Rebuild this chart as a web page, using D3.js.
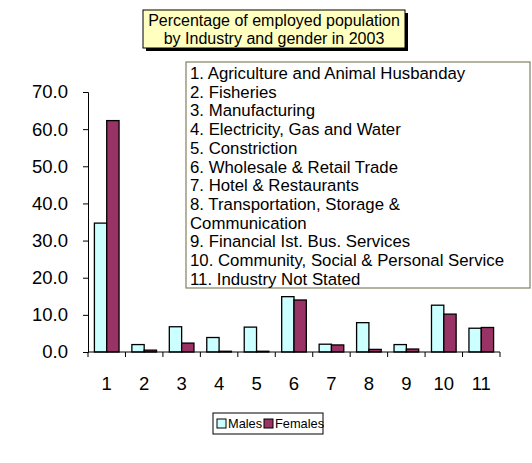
<!DOCTYPE html>
<html>
<head>
<meta charset="utf-8">
<script src="https://cdn.jsdelivr.net/npm/d3@7"></script>
<style>
  html, body { margin: 0; padding: 0; background: #fff; }
  svg { display: block; font-family: Arial, "Liberation Sans", sans-serif; }
</style>
</head>
<body>
<svg id="chart" width="532" height="463"></svg>
<script>
// Employed population by industry and gender, 2003 (percent)
const categories = ["1", "2", "3", "4", "5", "6", "7", "8", "9", "10", "11"];
const males   = [34.7, 2.0, 6.8, 3.9, 6.7, 14.9, 2.1, 7.9, 2.0, 12.6, 6.4];
const females = [62.3, 0.5, 2.4, 0.2, 0.2, 14.0, 1.9, 0.7, 0.8, 10.2, 6.6];
const seriesNames = ["Males", "Females"];
const yTicks = [0, 10, 20, 30, 40, 50, 60, 70];
const industryNotes = [
  "1. Agriculture and Animal Husbanday",
  "2. Fisheries",
  "3. Manufacturing",
  "4. Electricity, Gas and Water",
  "5. Constriction",
  "6. Wholesale & Retail Trade",
  "7. Hotel & Restaurants",
  "8. Transportation, Storage &",
  "Communication",
  "9. Financial Ist. Bus. Services",
  "10. Community, Social & Personal Service",
  "11. Industry Not Stated"
];
const titleLines = ["Percentage of employed population", "by Industry and gender  in 2003"];

const colors = ["#CCFFFF", "#993366"];
const svg = d3.select("#chart");

const plot = { left: 88, right: 500, top: 92, bottom: 352 };

const x = d3.scaleBand().domain(categories).range([plot.left, plot.right]).paddingInner(0).paddingOuter(0);
const inner = d3.scaleBand().domain(seriesNames).range([0, x.bandwidth()]).paddingInner(0).paddingOuter(0.52);
const y = d3.scaleLinear().domain([0, 70]).range([plot.bottom, plot.top]);

// bars
const rows = categories.map((c, i) => ({ cat: c, vals: [males[i], females[i]] }));
const groups = svg.append("g").selectAll("g").data(rows).join("g")
  .attr("transform", d => `translate(${x(d.cat)},0)`);
groups.selectAll("rect").data(d => d.vals.map((v, j) => ({ v, s: seriesNames[j], j })))
  .join("rect")
  .attr("x", d => inner(d.s))
  .attr("width", inner.bandwidth())
  .attr("y", d => y(d.v))
  .attr("height", d => y(0) - y(d.v))
  .attr("fill", d => colors[d.j])
  .attr("stroke", "#000")
  .attr("stroke-width", 1.3);

// y axis
const yAxis = svg.append("g").attr("transform", `translate(${plot.left},0)`)
  .call(d3.axisLeft(y).tickValues(yTicks).tickFormat(d3.format(".1f")).tickSize(5).tickPadding(15));
yAxis.select(".domain").attr("stroke", "#000");
yAxis.selectAll("text").attr("font-size", 18.5).attr("fill", "#000").attr("font-family", "Arial, 'Liberation Sans', sans-serif");

// x axis: ticks between categories
const xAxis = svg.append("g").attr("transform", `translate(0,${plot.bottom})`);
xAxis.append("line").attr("x1", plot.left).attr("x2", plot.right).attr("stroke", "#000");
const bounds = categories.map(c => x(c)).concat([plot.right]);
xAxis.selectAll("line.tk").data(bounds).join("line").attr("class", "tk")
  .attr("x1", d => d).attr("x2", d => d).attr("y1", 0).attr("y2", 5).attr("stroke", "#000");
xAxis.selectAll("text").data(categories).join("text")
  .attr("x", d => x(d) + x.bandwidth() / 2)
  .attr("y", 38)
  .attr("text-anchor", "middle")
  .attr("font-size", 18.5)
  .text(d => d);

// title box
const tb = { x: 143, y: 10, w: 262, h: 38 };
svg.append("rect").attr("x", tb.x + 3).attr("y", tb.y + 3).attr("width", tb.w).attr("height", tb.h).attr("fill", "#000");
svg.append("rect").attr("x", tb.x).attr("y", tb.y).attr("width", tb.w).attr("height", tb.h)
  .attr("fill", "#FFFFC0").attr("stroke", "#000").attr("stroke-width", 1);
svg.append("g").selectAll("text").data(titleLines).join("text")
  .attr("x", tb.x + tb.w / 2)
  .attr("y", (d, i) => tb.y + 16 + i * 17.5)
  .attr("text-anchor", "middle")
  .attr("font-size", 16)
  .text(d => d);

// industry key box
const kb = { x: 186, y: 62, w: 344, h: 226 };
svg.append("rect").attr("x", kb.x).attr("y", kb.y).attr("width", kb.w).attr("height", kb.h)
  .attr("fill", "#fff").attr("stroke", "#808060").attr("stroke-width", 1.2);
svg.append("g").selectAll("text").data(industryNotes).join("text")
  .attr("x", kb.x + 4)
  .attr("y", (d, i) => kb.y + 17 + i * 18.7)
  .attr("font-size", 16.8)
  .text(d => d);

// series legend
const lg = { x: 213, y: 413, w: 110, h: 21 };
svg.append("rect").attr("x", lg.x).attr("y", lg.y).attr("width", lg.w).attr("height", lg.h)
  .attr("fill", "#fff").attr("stroke", "#000");
const items = svg.append("g").selectAll("g").data(seriesNames).join("g")
  .attr("transform", (d, i) => `translate(${lg.x + 4 + i * 47},${lg.y + lg.h / 2})`);
items.append("rect").attr("x", 0).attr("y", -4.5).attr("width", 9).attr("height", 9)
  .attr("fill", (d, i) => colors[i]).attr("stroke", "#000");
items.append("text").attr("x", 11).attr("y", 4.5).attr("font-size", 12.8).text(d => d);
</script>
</body>
</html>
